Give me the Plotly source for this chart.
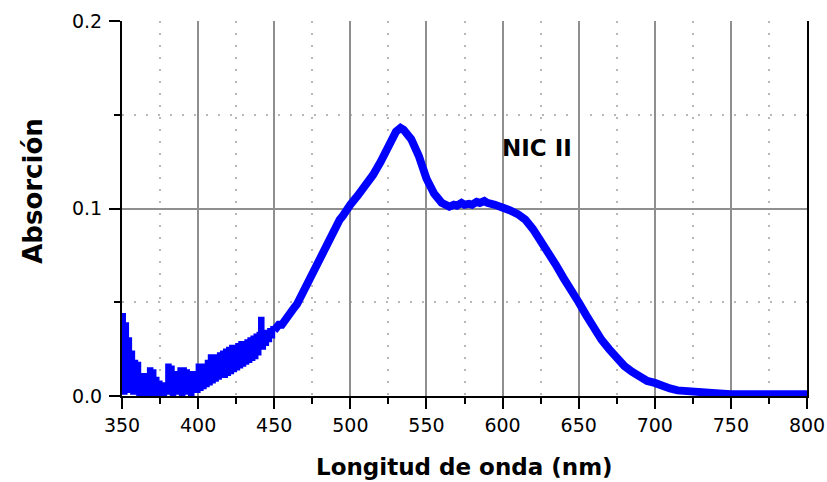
import plotly.graph_objects as go

# Dense, noisy part of the spectrum (1 nm sampling, 350-450 nm)
wl_noisy = list(range(350, 451))
abs_noisy = [
    0.043, 0.002, 0.038, 0.004, 0.030, 0.003, 0.023, 0.002, 0.018, 0.003,  # 350-359
    0.017, 0.001, 0.010, 0.002, 0.011, 0.001, 0.010, 0.004, 0.014, 0.001,  # 360-369
    0.013, 0.002, 0.009, 0.001, 0.007, 0.002, 0.006, 0.001, 0.005, 0.003,  # 370-379
    0.016, 0.002, 0.015, 0.001, 0.012, 0.003, 0.011, 0.002, 0.014, 0.001,  # 380-389
    0.014, 0.003, 0.013, 0.002, 0.012, 0.001, 0.011, 0.004, 0.012, 0.003,  # 390-399
    0.016, 0.004, 0.014, 0.005, 0.016, 0.006, 0.018, 0.007, 0.021, 0.008,  # 400-409
    0.019, 0.009, 0.021, 0.010, 0.022, 0.011, 0.023, 0.011, 0.024, 0.012,  # 410-419
    0.025, 0.013, 0.026, 0.014, 0.026, 0.015, 0.027, 0.016, 0.028, 0.017,  # 420-429
    0.028, 0.018, 0.029, 0.019, 0.030, 0.020, 0.031, 0.021, 0.032, 0.023,  # 430-439
    0.033, 0.041, 0.026, 0.034, 0.028, 0.034, 0.030, 0.035, 0.032, 0.036,  # 440-449
    0.035,                                                                  # 450
]

# Smoother part of the spectrum (450-800 nm)
wl_smooth = [450, 453, 455, 458, 460, 463, 465, 468, 470, 473,
             475, 478, 480, 483, 485, 488, 490, 493, 495, 498,
             500, 505, 510, 515, 520, 525, 530, 533, 535, 540,
             545, 550, 555, 560, 565, 568, 570, 573, 575, 578,
             580, 583, 585, 588, 590, 595, 600, 605, 610, 615,
             620, 625, 630, 635, 640, 645, 650, 655, 660, 665,
             670, 675, 680, 685, 690, 695, 700, 705, 710, 715,
             720, 730, 740, 750, 760, 770, 780, 790, 800]
abs_smooth = [0.035, 0.038, 0.038, 0.042, 0.043, 0.047, 0.049, 0.054, 0.056, 0.061,
              0.064, 0.070, 0.073, 0.079, 0.081, 0.087, 0.089, 0.094, 0.096, 0.100,
              0.102, 0.107, 0.112, 0.118, 0.125, 0.133, 0.141, 0.143, 0.142, 0.137,
              0.128, 0.116, 0.108, 0.103, 0.101, 0.102, 0.1015, 0.103, 0.102, 0.1025,
              0.102, 0.1035, 0.103, 0.104, 0.103, 0.102, 0.101, 0.099, 0.097, 0.094,
              0.089, 0.083, 0.077, 0.070, 0.063, 0.057, 0.050, 0.043, 0.036, 0.030,
              0.025, 0.020, 0.016, 0.013, 0.010, 0.008, 0.007, 0.005, 0.004, 0.003,
              0.0025, 0.002, 0.0015, 0.001, 0.001, 0.0008, 0.0012, 0.001, 0.001]

x_ticks = [350, 400, 450, 500, 550, 600, 650, 700, 750, 800]
y_ticks = [0.0, 0.1, 0.2]
y_tick_labels = ["0.0", "0.1", "0.2"]

sample_label = "NIC II"
x_title = "Longitud de onda (nm)"
y_title = "Absorción"

FONT = "DejaVu Sans, Liberation Sans, Arial, sans-serif"
BLUE = "#0000FF"

fig = go.Figure()
fig.add_trace(go.Scatter(
    x=wl_noisy, y=abs_noisy, mode="lines",
    line=dict(color=BLUE, width=5, shape="hv"),
    showlegend=False, hoverinfo="skip",
))
fig.add_trace(go.Scatter(
    x=wl_smooth, y=abs_smooth, mode="lines",
    line=dict(color=BLUE, width=8),
    showlegend=False, hoverinfo="skip",
))

grid_major = "#8f8f8f"
grid_minor = "#b8b8b8"

fig.update_xaxes(
    range=[350, 800], tickvals=x_ticks, ticktext=[str(v) for v in x_ticks],
    showline=True, linecolor="black", linewidth=2, mirror=False,
    ticks="outside", ticklen=11, tickwidth=2, tickcolor="black",
    showgrid=True, gridcolor=grid_major, gridwidth=2,
    zeroline=False, automargin=False,
    tickfont=dict(family=FONT, size=19, color="black"),
    minor=dict(dtick=25, ticks="outside", ticklen=6, tickwidth=2, tickcolor="black",
               showgrid=True, gridcolor=grid_minor, gridwidth=2, griddash="2px,10px"),
)
fig.update_yaxes(
    range=[0, 0.2], tickvals=y_ticks, ticktext=y_tick_labels,
    showline=True, linecolor="black", linewidth=2, mirror=True,
    ticks="outside", ticklen=11, tickwidth=2, tickcolor="black",
    showgrid=True, gridcolor=grid_major, gridwidth=2,
    zeroline=False, automargin=False, ticklabelstandoff=3,
    tickfont=dict(family=FONT, size=19, color="black"),
    minor=dict(dtick=0.05, ticks="outside", ticklen=6, tickwidth=2, tickcolor="black",
               showgrid=True, gridcolor=grid_minor, gridwidth=2, griddash="2px,10px"),
)

fig.add_annotation(x=622.6, y=0.1325, xref="x", yref="y", text="<b>" + sample_label + "</b>",
                   showarrow=False, font=dict(family=FONT, size=23, color="black"))
fig.add_annotation(x=0.5, y=-0.19, xref="paper", yref="paper", text="<b>" + x_title + "</b>",
                   showarrow=False, yanchor="middle",
                   font=dict(family=FONT, size=23, color="black"))
fig.add_annotation(x=-0.13, y=0.547, xref="paper", yref="paper", text="<b>" + y_title + "</b>",
                   showarrow=False, textangle=-90, xanchor="center", yanchor="middle",
                   font=dict(family=FONT, size=26, color="black"))

fig.update_layout(
    width=827, height=482,
    margin=dict(l=122, r=20, t=21, b=86, autoexpand=False),
    paper_bgcolor="white", plot_bgcolor="white",
    font=dict(family=FONT, color="black"),
)

fig.write_html("out.html", config={"displayModeBar": False},
               post_script="document.body.style.margin='0';document.body.style.overflow='hidden';")
